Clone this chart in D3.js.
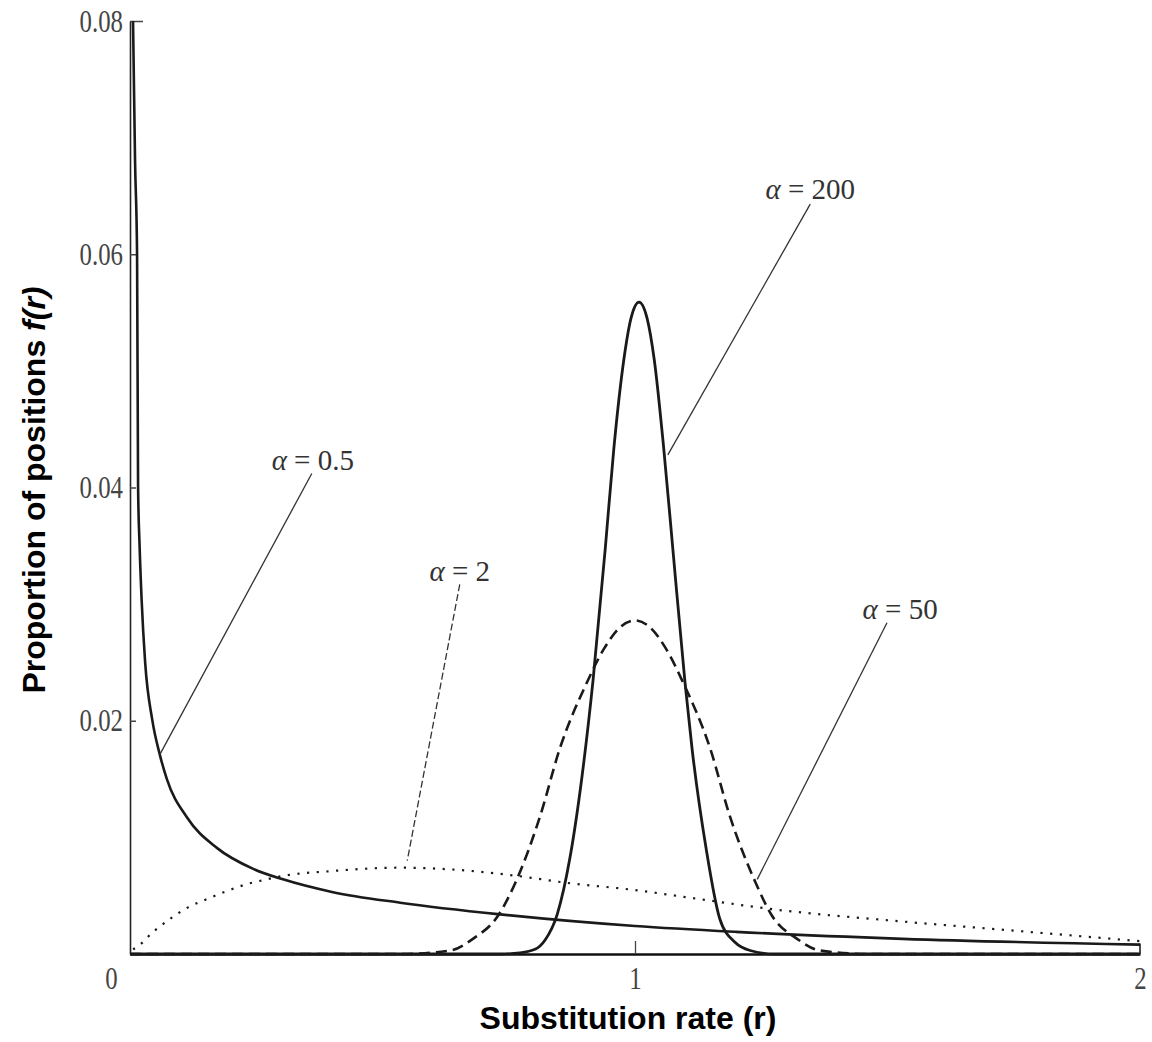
<!DOCTYPE html>
<html>
  <head>
    <meta charset="utf-8">
    <script src="https://cdn.jsdelivr.net/npm/d3@7/dist/d3.min.js"></script>
    <style>
      body { margin: 0; background: #fff; }
      .tick-label { font-family: "Liberation Serif", "DejaVu Serif", serif; fill: #444; }
      .note { font-family: "Liberation Serif", "DejaVu Serif", serif; font-size: 29px; fill: #333; }
      .title { font-family: "Liberation Sans", Arial, sans-serif; font-weight: bold; fill: #000; }
    </style>
  </head>
  <body>
    <script>
      // values: rate r and proportion f(r)
      const a05R = [0.006, 0.010, 0.014, 0.016, 0.019, 0.023, 0.030, 0.044, 0.059, 0.073, 0.113, 0.172, 0.244, 0.303, 0.402, 0.535, 0.733, 1.0, 1.2, 1.53, 2.0];
      const a05V = [0.080, 0.068, 0.060, 0.040, 0.0350, 0.0304, 0.0250, 0.0201, 0.0171, 0.0150, 0.0117, 0.0091, 0.0073, 0.0064, 0.0053, 0.0044, 0.0034, 0.0024, 0.0019, 0.0013, 0.0008];

      const a2R = [0.006, 0.014, 0.046, 0.079, 0.115, 0.152, 0.192, 0.232, 0.271, 0.303, 0.396, 0.535, 0.653, 0.766, 0.865, 0.996, 1.129, 1.261, 1.525, 1.723, 2.0];
      const a2V = [0.0004, 0.0006, 0.0019, 0.0030, 0.0040, 0.0047, 0.0054, 0.0060, 0.0064, 0.0067, 0.0071, 0.0074, 0.0072, 0.0067, 0.0061, 0.0055, 0.0047, 0.0039, 0.0028, 0.0021, 0.0011];

      const a50R = [0.0, 0.535, 0.634, 0.679, 0.729, 0.764, 0.812, 0.851, 0.905, 0.939, 0.970, 1.0, 1.030, 1.061, 1.095, 1.149, 1.188, 1.238, 1.271, 1.321, 1.366, 1.465, 2.0];
      const a50V = [0.0, 0.0, 0.0003, 0.0013, 0.0033, 0.0062, 0.0118, 0.0176, 0.0233, 0.0262, 0.0280, 0.0286, 0.0280, 0.0262, 0.0233, 0.0176, 0.0118, 0.0062, 0.0033, 0.0013, 0.0003, 0.0, 0.0];

      const a200R = [0.0, 0.733, 0.772, 0.802, 0.822, 0.846, 0.871, 0.895, 0.917, 0.941, 0.958, 0.978, 0.992, 1.008, 1.024, 1.038, 1.057, 1.075, 1.099, 1.113, 1.141, 1.168, 1.198, 1.228, 1.277, 2.0];
      const a200V = [0.0, 0.0, 0.0001, 0.0004, 0.0012, 0.0034, 0.0082, 0.0152, 0.0235, 0.0347, 0.0433, 0.0510, 0.0545, 0.0559, 0.0545, 0.0510, 0.0433, 0.0347, 0.0233, 0.0176, 0.0090, 0.0030, 0.0010, 0.0003, 0.0, 0.0];

      const xTicks = [0, 1, 2];
      const yTicks = [0.02, 0.04, 0.06, 0.08];
      const alphaNames = ['200', '0.5', '2', '50'];

      const width = 1152;
      const height = 1042;

      const x = d3.scaleLinear().domain([0, 2]).range([130, 1140]);
      const y = d3.scaleLinear().domain([0, 0.08]).range([954, 21]);

      const svg = d3.select('body').append('svg')
        .attr('width', width)
        .attr('height', height);

      // y axis, ticks pointing inwards
      const yAxis = svg.append('g')
        .attr('transform', `translate(${x(0)},0)`)
        .call(d3.axisLeft(y).tickValues(yTicks).tickSize(-6).tickSizeOuter(0)
          .tickFormat(d3.format('.2f')));
      yAxis.select('.domain').attr('stroke', '#222').attr('stroke-width', 1.6);
      yAxis.selectAll('.tick line').attr('stroke', '#444').attr('stroke-width', 1.5)
        .attr('x2', d => d === 0.08 ? 13 : 6);
      yAxis.selectAll('.tick text').attr('class', 'tick-label')
        .attr('font-size', 31)
        .attr('x', null)
        .attr('dy', '0.33em')
        .attr('transform', 'translate(-7,0) scale(0.8,1)');

      // x axis
      const xAxis = svg.append('g')
        .attr('transform', `translate(0,${y(0)})`)
        .call(d3.axisBottom(x).tickValues(xTicks).tickSize(-13).tickSizeOuter(0)
          .tickFormat(d3.format('d')));
      xAxis.select('.domain').attr('stroke', '#111').attr('stroke-width', 2.6);
      xAxis.selectAll('.tick line').attr('stroke', '#444').attr('stroke-width', 1.3)
        .attr('display', d => d === 1 ? null : 'none');
      xAxis.selectAll('.tick text').attr('class', 'tick-label')
        .attr('font-size', 31)
        .attr('y', null)
        .attr('dy', null)
        .attr('transform', d => `translate(${d === 0 ? -19 : 0},35) scale(0.8,1)`);
      xAxis.append('line')
        .attr('x1', x(2)).attr('x2', x(2))
        .attr('y1', 0).attr('y2', y(0.0009) - y(0))
        .attr('stroke', '#111').attr('stroke-width', 1.5);

      const line = d3.line()
        .x(d => x(d[0]))
        .y(d => y(d[1]))
        .curve(d3.curveMonotoneX);

      const series = [
        {r: a2R, v: a2V, dash: '2.2,7.5', w: 2.2},
        {r: a50R, v: a50V, dash: '11,6', w: 2.6},
        {r: a05R, v: a05V, dash: null, w: 2.6},
        {r: a200R, v: a200V, dash: null, w: 2.8}
      ];

      svg.selectAll('path.curve').data(series)
        .enter()
        .append('path')
        .attr('class', 'curve')
        .attr('d', s => line(d3.zip(s.r, s.v)))
        .attr('fill', 'none')
        .attr('stroke', '#1a1a1a')
        .attr('stroke-width', s => s.w)
        .attr('stroke-dasharray', s => s.dash);

      // labels with leader lines, placed in data units
      const notes = [
        {name: alphaNames[0], at: [1.347, 0.0656], from: [1.347, 0.0643], to: [1.065, 0.0428], dash: null},
        {name: alphaNames[1], at: [0.362, 0.0424], from: [0.360, 0.0412], to: [0.059, 0.0171], dash: null},
        {name: alphaNames[2], at: [0.653, 0.0328], from: [0.653, 0.0317], to: [0.549, 0.0080], dash: '7,3'},
        {name: alphaNames[3], at: [1.525, 0.0296], from: [1.499, 0.0284], to: [1.242, 0.0064], dash: null}
      ];

      svg.selectAll('line.leader').data(notes)
        .enter()
        .append('line')
        .attr('class', 'leader')
        .attr('x1', d => x(d.from[0]))
        .attr('y1', d => y(d.from[1]))
        .attr('x2', d => x(d.to[0]))
        .attr('y2', d => y(d.to[1]))
        .attr('stroke', '#333')
        .attr('stroke-width', 1.3)
        .attr('stroke-dasharray', d => d.dash);

      const labels = svg.selectAll('text.note').data(notes)
        .enter()
        .append('text')
        .attr('class', 'note')
        .attr('x', d => x(d.at[0]))
        .attr('y', d => y(d.at[1]) + 10)
        .attr('text-anchor', 'middle');
      labels.append('tspan').attr('font-style', 'italic').text('α');
      labels.append('tspan').text(d => ' = ' + d.name);

      // axis titles
      svg.append('text')
        .attr('class', 'title')
        .attr('x', 628)
        .attr('y', 1029)
        .attr('text-anchor', 'middle')
        .attr('font-size', 32)
        .text('Substitution rate (r)');

      const yTitle = svg.append('text')
        .attr('class', 'title')
        .attr('transform', 'translate(45,490) rotate(-90)')
        .attr('text-anchor', 'middle')
        .attr('font-size', 32);
      yTitle.append('tspan').text('Proportion of positions ');
      yTitle.append('tspan').attr('font-style', 'italic').text('f(r)');
    </script>
  </body>
</html>
